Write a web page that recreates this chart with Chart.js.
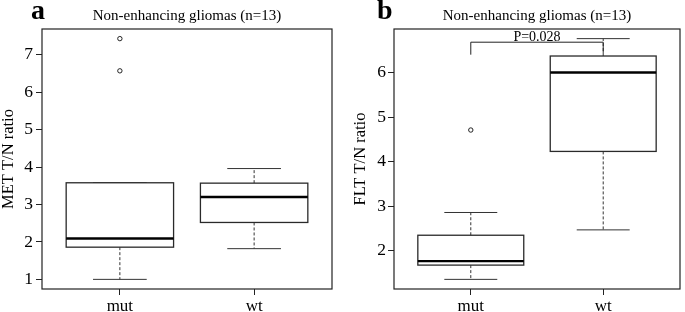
<!DOCTYPE html>
<html>
<head>
<meta charset="utf-8">
<script src="https://cdn.jsdelivr.net/npm/chart.js@4.4.1/dist/chart.umd.min.js"></script>
<style>
html,body{margin:0;padding:0;background:#fff;}
#wrap{position:relative;width:685px;height:312px;overflow:hidden;background:#fff;}
.holder{position:absolute;top:0;}
.lab{position:absolute;font-family:"Liberation Serif",serif;font-weight:bold;font-size:28px;line-height:28px;color:#000;}
</style>
</head>
<body>
<div id="wrap">
  <div class="holder" style="left:0;width:342px;height:312px;"><canvas id="ca" width="342" height="312"></canvas></div>
  <div class="holder" style="left:352px;width:333px;height:312px;"><canvas id="cb" width="333" height="312"></canvas></div>
  <div class="lab" style="left:31px;top:-4px;">a</div>
  <div class="lab" style="left:377px;top:-4px;">b</div>
</div>
<script>
// ---------- data ----------
const groups = ['mut', 'wt'];
const groupPositions = [1, 2];

// Panel a: MET T/N ratio
const metLowWhisker  = [1.00, 1.82];
const metQ1          = [1.86, 2.52];
const metMedian      = [2.09, 3.20];
const metQ3          = [3.58, 3.57];
const metHighWhisker = [3.58, 3.96];
const metOutliers    = [[7.43, 6.57], []];
const metTicks       = [1, 2, 3, 4, 5, 6, 7];

// Panel b: FLT T/N ratio
const fltLowWhisker  = [1.36, 2.47];
const fltQ1          = [1.68, 4.23];
const fltMedian      = [1.77, 6.00];
const fltQ3          = [2.35, 6.37];
const fltHighWhisker = [2.86, 6.76];
const fltOutliers    = [[4.71], []];
const fltTicks       = [2, 3, 4, 5, 6];

// significance bracket (panel b)
const bracketGroups = [1, 2];
const bracketTop    = 6.68;
const bracketEnds   = [6.40, 6.44];
const bracketLabel  = 'P=0.028';

const titleText = 'Non-enhancing gliomas (n=13)';

// ---------- drawing ----------
const FONT = "'Liberation Serif', 'Times New Roman', serif";
Chart.defaults.font.family = FONT;

function rangeOf(lo, hi, outs) {
  let mn = Math.min(...lo), mx = Math.max(...hi);
  outs.forEach(a => a.forEach(v => { mn = Math.min(mn, v); mx = Math.max(mx, v); }));
  const d = (mx - mn) * 0.04;
  return [mn - d, mx + d];
}

const boxPlugin = {
  id: 'boxes',
  afterDatasetsDraw(chart) {
    const st = chart.options.plugins.boxes;
    const xs = chart.scales.x, ys = chart.scales.y, ctx = chart.ctx;
    ctx.save();
    groupPositions.forEach((p, i) => {
      const xc = xs.getPixelForValue(p);
      const hw = xs.getPixelForValue(p + 0.4) - xc;
      const cw = xs.getPixelForValue(p + 0.2) - xc;
      const yq1 = ys.getPixelForValue(st.q1[i]);
      const yq3 = ys.getPixelForValue(st.q3[i]);
      const ym = ys.getPixelForValue(st.med[i]);
      const ylo = ys.getPixelForValue(st.lo[i]);
      const yhi = ys.getPixelForValue(st.hi[i]);
      // whiskers (dashed)
      ctx.strokeStyle = '#333';
      ctx.lineWidth = 1;
      ctx.setLineDash([3, 2]);
      ctx.beginPath();
      if (Math.abs(yhi - yq3) > 0.5) { ctx.moveTo(xc, yq3); ctx.lineTo(xc, yhi); }
      if (Math.abs(ylo - yq1) > 0.5) { ctx.moveTo(xc, yq1); ctx.lineTo(xc, ylo); }
      ctx.stroke();
      ctx.setLineDash([]);
      // caps
      ctx.beginPath();
      ctx.moveTo(xc - cw, yhi); ctx.lineTo(xc + cw, yhi);
      ctx.moveTo(xc - cw, ylo); ctx.lineTo(xc + cw, ylo);
      ctx.stroke();
      // box
      ctx.fillStyle = '#fff';
      ctx.fillRect(xc - hw, yq3, 2 * hw, yq1 - yq3);
      ctx.lineWidth = 1.3;
      ctx.strokeStyle = '#2a2a2a';
      ctx.strokeRect(xc - hw, yq3, 2 * hw, yq1 - yq3);
      // median
      ctx.lineWidth = 2.4;
      ctx.strokeStyle = '#000';
      ctx.beginPath();
      ctx.moveTo(xc - hw, ym); ctx.lineTo(xc + hw, ym);
      ctx.stroke();
    });
    // bracket
    const br = st.bracket;
    if (br) {
      const x1 = xs.getPixelForValue(br.groups[0]);
      const x2 = xs.getPixelForValue(br.groups[1]);
      const yt = ys.getPixelForValue(br.top);
      ctx.strokeStyle = '#222';
      ctx.lineWidth = 1;
      ctx.beginPath();
      ctx.moveTo(x1, ys.getPixelForValue(br.ends[0]));
      ctx.lineTo(x1, yt);
      ctx.lineTo(x2, yt);
      ctx.lineTo(x2, ys.getPixelForValue(br.ends[1]));
      ctx.stroke();
      ctx.fillStyle = '#000';
      ctx.font = '14px ' + FONT;
      ctx.textAlign = 'center';
      ctx.textBaseline = 'alphabetic';
      ctx.fillText(br.label, (x1 + x2) / 2, yt - 1.5);
    }
    // frame
    const a = chart.chartArea;
    ctx.strokeStyle = '#222';
    ctx.lineWidth = 1.2;
    ctx.strokeRect(a.left, a.top, a.right - a.left, a.bottom - a.top);
    ctx.restore();
  }
};

function makeChart(id, cfg) {
  const yr = rangeOf(cfg.lo, cfg.hi, cfg.outs);
  const pts = [];
  cfg.outs.forEach((arr, i) => arr.forEach(v => pts.push({ x: groupPositions[i], y: v })));
  return new Chart(document.getElementById(id), {
    type: 'scatter',
    data: {
      datasets: [{
        data: pts,
        pointRadius: 2.2,
        pointBorderWidth: 1,
        pointBorderColor: '#222',
        pointBackgroundColor: '#fff',
        showLine: false
      }]
    },
    options: {
      responsive: false,
      animation: false,
      events: [],
      layout: { padding: { left: 0, right: cfg.padRight, top: 0, bottom: 0 } },
      plugins: {
        legend: { display: false },
        tooltip: { enabled: false },
        title: {
          display: true, text: titleText, fullSize: false, color: '#000',
          font: { size: 15, weight: 'normal', family: FONT, lineHeight: 1.2 },
          padding: { top: 7, bottom: 4 }
        },
        boxes: { lo: cfg.lo, q1: cfg.q1, med: cfg.med, q3: cfg.q3, hi: cfg.hi, bracket: cfg.bracket }
      },
      scales: {
        x: {
          type: 'linear', min: 0.42, max: 2.58,
          afterFit(s) { s.height = 23; },
          afterBuildTicks(s) { s.ticks = groupPositions.map(v => ({ value: v })); },
          ticks: {
            callback: (v, i) => groups[i],
            font: { size: 17, family: FONT }, color: '#000', padding: 1,
            maxRotation: 0, autoSkip: false
          },
          grid: { drawOnChartArea: false, drawTicks: true, tickLength: 6, color: '#222', tickWidth: 1 },
          border: { display: false }
        },
        y: {
          type: 'linear', min: yr[0], max: yr[1],
          afterFit(s) { s.width = 42; },
          afterBuildTicks(s) { s.ticks = cfg.ticks.map(v => ({ value: v })); },
          ticks: { font: { size: 17.5, family: FONT }, color: '#000', padding: cfg.tickPad, callback: v => String(v) },
          grid: { drawOnChartArea: false, drawTicks: true, tickLength: 6, color: '#222', tickWidth: 1 },
          border: { display: false },
          title: {
            display: true, text: cfg.yTitle, color: '#000',
            font: { size: 16.5, family: FONT, lineHeight: 1 },
            padding: { top: 0, bottom: 0 }
          }
        }
      }
    },
    plugins: [boxPlugin]
  });
}

makeChart('ca', {
  lo: metLowWhisker, q1: metQ1, med: metMedian, q3: metQ3, hi: metHighWhisker,
  outs: metOutliers, ticks: metTicks, yTitle: 'MET T/N ratio', padRight: 10, tickPad: 3, bracket: null
});
makeChart('cb', {
  lo: fltLowWhisker, q1: fltQ1, med: fltMedian, q3: fltQ3, hi: fltHighWhisker,
  outs: fltOutliers, ticks: fltTicks, yTitle: 'FLT T/N ratio', padRight: 2, tickPad: 2,
  bracket: { groups: bracketGroups, top: bracketTop, ends: bracketEnds, label: bracketLabel }
});
</script>
</body>
</html>
